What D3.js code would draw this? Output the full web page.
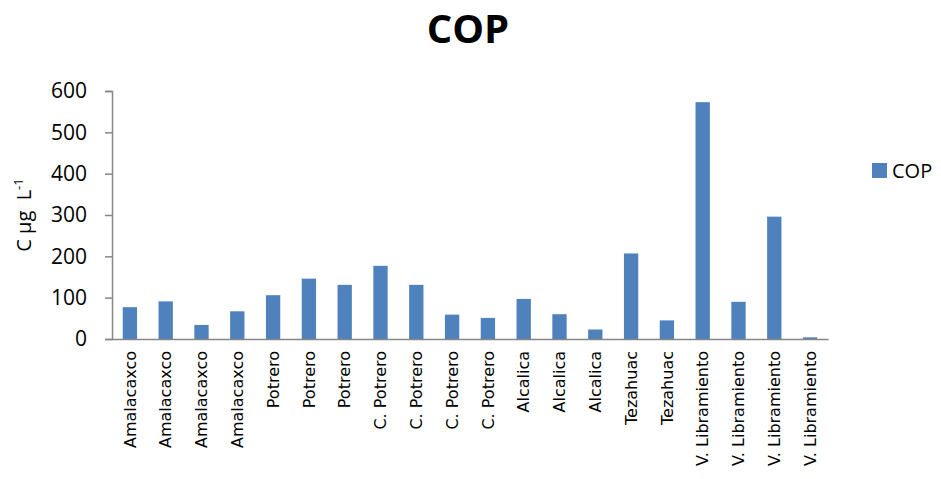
<!DOCTYPE html>
<html><head><meta charset="utf-8">
<script src="https://cdn.jsdelivr.net/npm/d3@7"></script>
<style>body{margin:0;background:#fff}svg{display:block}</style>
</head><body>
<script>
const categories = ["Amalacaxco","Amalacaxco","Amalacaxco","Amalacaxco","Potrero","Potrero","Potrero","C. Potrero","C. Potrero","C. Potrero","C. Potrero","Alcalica","Alcalica","Alcalica","Tezahuac","Tezahuac","V. Libramiento","V. Libramiento","V. Libramiento","V. Libramiento"];
const copValues = [77,91,34,67,106,146,131,177,131,59,51,97,60,23,207,45,573,90,296,4];
const yTicks = [0,100,200,300,400,500,600];
const seriesName = "COP";

const W = 941, H = 479;
const m = {left:112, right:113, top:91, bottom:140};
const svg = d3.select("body").append("svg").attr("width",W).attr("height",H);
const font = "Open Sans, Liberation Sans, sans-serif";
const xfont = "DejaVu Sans, Verdana, sans-serif";

const x = d3.scaleBand().domain(d3.range(categories.length)).range([m.left, 828]).paddingInner(0.6).paddingOuter(0.3);
const y = d3.scaleLinear().domain([0,600]).range([339, 91]);

svg.append("text").attr("x",468).attr("y",43).attr("text-anchor","middle")
  .attr("font-family",font).attr("font-weight","bold").attr("font-size",40).text("COP");

svg.selectAll("rect.bar").data(copValues).join("rect").attr("class","bar")
  .attr("x",(d,i)=>x(i)).attr("width",x.bandwidth())
  .attr("y",d=>y(d)).attr("height",d=>y(0)-y(d)).attr("fill","#4F81BD");

const yAxis = svg.append("g").attr("transform",`translate(${m.left},0)`)
  .call(d3.axisLeft(y).tickValues(yTicks).tickSize(7).tickPadding(18));
yAxis.select(".domain").attr("stroke","#868686").attr("stroke-width",1.5);
yAxis.selectAll(".tick line").attr("stroke","#868686").attr("stroke-width",1.5);
yAxis.selectAll(".tick text").attr("font-family",font).attr("font-size",21).attr("fill","#000");

const xAxis = svg.append("g").attr("transform",`translate(0,339)`)
  .call(d3.axisBottom(x).tickSize(0).tickFormat(i=>categories[i]));
xAxis.select(".domain").attr("stroke","#868686").attr("stroke-width",1.5);
xAxis.selectAll(".tick text").attr("font-family",xfont).attr("font-size",16).attr("fill","#000")
  .attr("transform","rotate(-90)").attr("text-anchor","end").attr("dy","0.35em").attr("x",-12).attr("y",0);

const yl = svg.append("text").attr("transform","translate(31,215) rotate(-90)").attr("text-anchor","middle")
  .attr("font-family",font).attr("font-size",20).attr("fill","#000");
yl.append("tspan").text("C µg\u00a0\u00a0L");
yl.append("tspan").attr("font-size",13).attr("dy",-8).text("-1");

const lg = svg.append("g");
lg.append("rect").attr("x",872).attr("y",163).attr("width",15).attr("height",15).attr("fill","#4F81BD");
lg.append("text").attr("x",892).attr("y",178).attr("font-family",font).attr("font-size",20).text(seriesName);
</script>
</body></html>
